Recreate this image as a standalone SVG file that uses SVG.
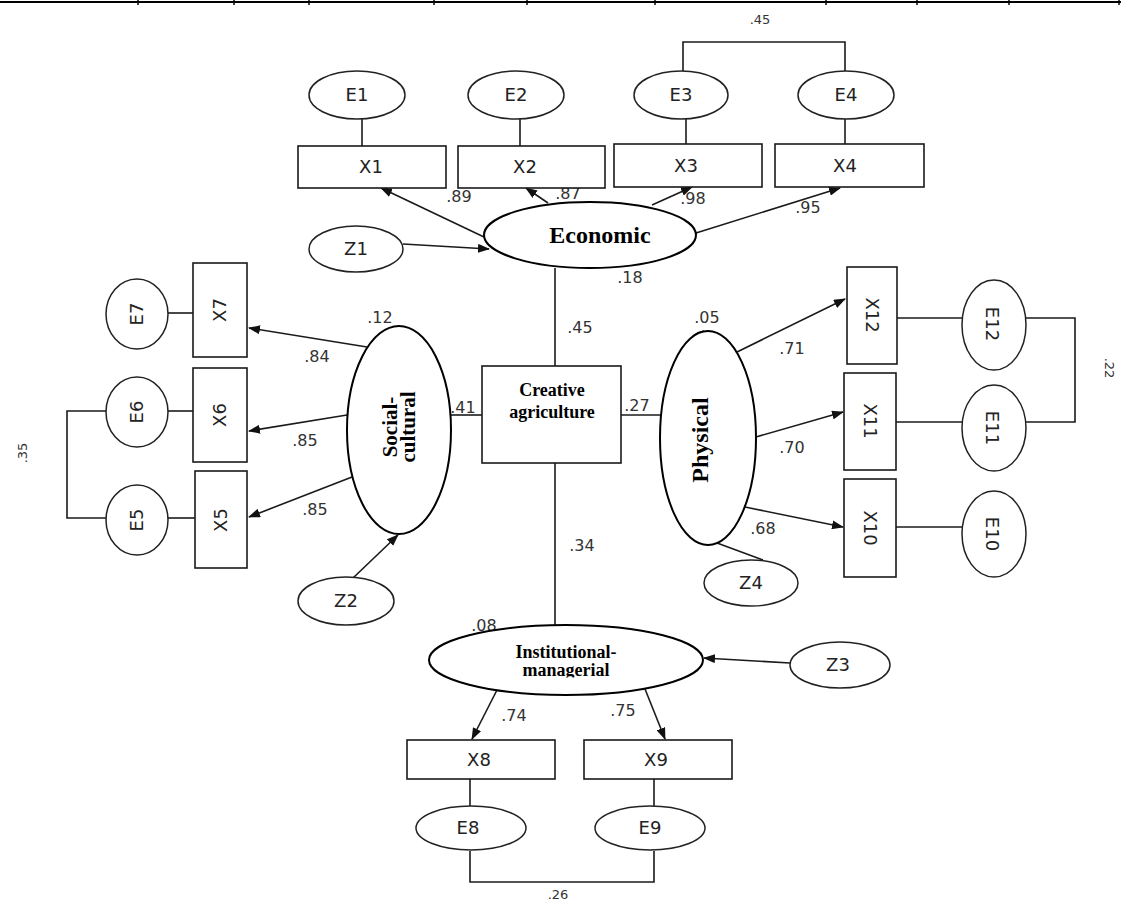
<svg xmlns="http://www.w3.org/2000/svg" width="1121" height="902" viewBox="0 0 1121 902">
<defs>
<marker id="ah" markerUnits="userSpaceOnUse" markerWidth="12" markerHeight="9" refX="11" refY="4.5" orient="auto">
<path d="M0,0 L12,4.5 L0,9 z" fill="#111"/>
</marker>
<clipPath id="clipInst"><rect x="400" y="600" width="340" height="77.5"/></clipPath>
<style>
.ln{stroke:#1a1a1a;stroke-width:1.6;fill:none}
.ar{stroke:#1a1a1a;stroke-width:1.6;fill:none;marker-end:url(#ah)}
.obs{fill:#fff;stroke:#1a1a1a;stroke-width:1.6}
.err{fill:#fff;stroke:#222;stroke-width:1.5}
.lat{fill:#fff;stroke:#000;stroke-width:2}
.lbl{font-family:"DejaVu Sans",sans-serif;font-size:18px;fill:#222;text-anchor:middle}
.num{font-family:"DejaVu Sans",sans-serif;font-size:16px;fill:#333;text-anchor:middle}
.sm{font-family:"DejaVu Sans",sans-serif;font-size:13px;fill:#333;text-anchor:middle}
.bold{font-family:"Liberation Serif","Times New Roman",serif;font-weight:bold;fill:#000;text-anchor:middle}
</style>
</defs>
<rect width="1121" height="902" fill="#fff"/>
<g id="border" stroke="#000">
<line x1="0" y1="2" x2="1121" y2="2" stroke-width="2"/>
<g stroke-width="1.5">
<line x1="138" y1="0" x2="138" y2="5"/><line x1="234" y1="0" x2="234" y2="5"/><line x1="309" y1="0" x2="309" y2="5"/>
<line x1="434" y1="0" x2="434" y2="5"/><line x1="527" y1="0" x2="527" y2="5"/><line x1="655" y1="0" x2="655" y2="5"/>
<line x1="826" y1="0" x2="826" y2="5"/><line x1="917" y1="0" x2="917" y2="5"/><line x1="1009" y1="0" x2="1009" y2="5"/>
<line x1="1119" y1="0" x2="1119" y2="5"/>
</g>
</g>
<g id="connectors">
<line class="ln" x1="362" y1="119" x2="362" y2="146"/>
<line class="ln" x1="520" y1="119" x2="520" y2="146"/>
<line class="ln" x1="686" y1="119" x2="686" y2="144"/>
<line class="ln" x1="845" y1="119" x2="845" y2="144"/>
<polyline class="ln" points="683,72 683,42 845,42 845,72"/>
<line class="ar" x1="484" y1="237" x2="381" y2="188"/>
<line class="ar" x1="548" y1="203" x2="526" y2="188"/>
<line class="ar" x1="652" y1="205" x2="692" y2="187"/>
<line class="ar" x1="696" y1="233" x2="840" y2="188"/>
<line class="ar" x1="403" y1="244" x2="489" y2="249"/>
<line class="ln" x1="555" y1="268" x2="555" y2="366"/>
<line class="ln" x1="451" y1="415" x2="482" y2="415"/>
<line class="ln" x1="621" y1="415" x2="661" y2="415"/>
<line class="ln" x1="555" y1="463" x2="555" y2="625"/>
<line class="ar" x1="367" y1="347" x2="249" y2="328"/>
<line class="ar" x1="347" y1="415" x2="249" y2="431"/>
<line class="ar" x1="352" y1="477" x2="249" y2="517"/>
<line class="ar" x1="353" y1="578" x2="398" y2="535"/>
<line class="ln" x1="168" y1="313" x2="193" y2="313"/>
<line class="ln" x1="168" y1="411" x2="193" y2="411"/>
<line class="ln" x1="168" y1="518" x2="195" y2="518"/>
<polyline class="ln" points="107,411 67,411 67,518 107,518"/>
<line class="ar" x1="737" y1="352" x2="845" y2="299"/>
<line class="ar" x1="756" y1="437" x2="843" y2="412"/>
<line class="ar" x1="745" y1="507" x2="843" y2="527"/>
<line class="ln" x1="717" y1="543" x2="763" y2="560"/>
<path class="ln" d="M688,345 Q691,333 704,331" stroke-width="2.5"/>
<line class="ln" x1="897" y1="318" x2="962" y2="318"/>
<line class="ln" x1="896" y1="422" x2="962" y2="422"/>
<line class="ln" x1="896" y1="527" x2="962" y2="527"/>
<polyline class="ln" points="1026,318 1075,318 1075,422 1026,422"/>
<line class="ar" x1="497" y1="690" x2="472" y2="739"/>
<line class="ar" x1="645" y1="689" x2="665" y2="739"/>
<line class="ar" x1="790" y1="663" x2="704" y2="658"/>
<line class="ln" x1="470" y1="779" x2="470" y2="806"/>
<line class="ln" x1="654" y1="779" x2="654" y2="806"/>
<polyline class="ln" points="470,851 470,882 654,882 654,851"/>
<g id="coefs">
<text class="sm" x="760" y="24">.45</text>
<text class="num" x="459" y="202">.89</text>
<text class="num" x="568" y="199">.87</text>
<text class="num" x="693" y="204">.98</text>
<text class="num" x="808" y="213">.95</text>
<text class="num" x="630" y="283">.18</text>
<text class="num" x="580" y="333">.45</text>
<text class="num" x="380" y="323">.12</text>
<text class="num" x="317" y="362">.84</text>
<text class="num" x="305" y="446">.85</text>
<text class="num" x="315" y="515">.85</text>
<text class="num" x="463" y="413">.41</text>
<text class="num" x="637" y="411">.27</text>
<text class="num" x="707" y="323">.05</text>
<text class="num" x="792" y="354">.71</text>
<text class="num" x="792" y="453">.70</text>
<text class="num" x="763" y="534">.68</text>
<text class="num" x="582" y="551">.34</text>
<text class="num" x="484" y="631">.08</text>
<text class="num" x="514" y="721">.74</text>
<text class="num" x="623" y="716">.75</text>
<text class="sm" x="558" y="899">.26</text>
<text class="sm" transform="translate(22,453) rotate(-90)" y="5">.35</text>
<text class="sm" transform="translate(1110,368) rotate(90)" y="5">.22</text>
</g>
</g>
<g id="E1"><ellipse class="err" cx="357" cy="95" rx="48" ry="24"/><text class="lbl" x="357" y="101">E1</text></g>
<g id="E2"><ellipse class="err" cx="516" cy="95" rx="48" ry="24"/><text class="lbl" x="516" y="101">E2</text></g>
<g id="E3"><ellipse class="err" cx="681" cy="95" rx="47" ry="24"/><text class="lbl" x="681" y="101">E3</text></g>
<g id="E4"><ellipse class="err" cx="846" cy="95" rx="48" ry="24"/><text class="lbl" x="846" y="101">E4</text></g>
<g id="X1"><rect class="obs" x="298" y="146" width="148" height="42"/><text class="lbl" x="371" y="173">X1</text></g>
<g id="X2"><rect class="obs" x="458" y="146" width="147" height="42"/><text class="lbl" x="525" y="173">X2</text></g>
<g id="X3"><rect class="obs" x="614" y="144" width="148" height="43"/><text class="lbl" x="686" y="172">X3</text></g>
<g id="X4"><rect class="obs" x="775" y="144" width="149" height="43"/><text class="lbl" x="845" y="172">X4</text></g>
<g id="Z1"><ellipse class="err" cx="356" cy="249" rx="47" ry="23"/><text class="lbl" x="356" y="255">Z1</text></g>
<g id="Economic"><ellipse class="lat" cx="590" cy="235" rx="106" ry="33"/><text class="bold" x="600" y="243" font-size="24">Economic</text></g>
<g id="Creative"><rect class="obs" x="482" y="366" width="139" height="97" stroke-width="1.8"/><text class="bold" x="552" y="396" font-size="18">Creative</text><text class="bold" x="552" y="418" font-size="18">agriculture</text></g>
<g id="SocialCultural"><ellipse class="lat" cx="399" cy="430" rx="52" ry="104"/>
<g transform="translate(397,427) rotate(-90)"><text class="bold" x="0" y="0" font-size="21">Social-</text><text class="bold" x="0" y="18" font-size="21">cultural</text></g></g>
<g id="X7"><rect class="obs" x="193" y="263" width="54" height="94"/><text class="lbl" transform="translate(220,310) rotate(-90)" y="6">X7</text></g>
<g id="X6"><rect class="obs" x="193" y="368" width="54" height="94"/><text class="lbl" transform="translate(220,415) rotate(-90)" y="6">X6</text></g>
<g id="X5"><rect class="obs" x="195" y="471" width="52" height="97"/><text class="lbl" transform="translate(221,520) rotate(-90)" y="6">X5</text></g>
<g id="E7"><ellipse class="err" cx="137" cy="314" rx="31" ry="35"/><text class="lbl" transform="translate(137,314) rotate(-90)" y="6">E7</text></g>
<g id="E6"><ellipse class="err" cx="137" cy="412" rx="31" ry="35"/><text class="lbl" transform="translate(137,412) rotate(-90)" y="6">E6</text></g>
<g id="E5"><ellipse class="err" cx="137" cy="520" rx="31" ry="35"/><text class="lbl" transform="translate(137,520) rotate(-90)" y="6">E5</text></g>
<g id="Z2"><ellipse class="err" cx="346" cy="601" rx="48" ry="24"/><text class="lbl" x="346" y="607">Z2</text></g>
<g id="Physical"><ellipse class="lat" cx="708" cy="438" rx="48" ry="107"/><text class="bold" transform="translate(708,440) rotate(-90)" x="0" y="0" font-size="24">Physical</text></g>
<g id="X12"><rect class="obs" x="847" y="267" width="50" height="97"/><text class="lbl" transform="translate(872,315) rotate(90)" y="6">X12</text></g>
<g id="X11"><rect class="obs" x="844" y="373" width="52" height="97"/><text class="lbl" transform="translate(870,421) rotate(90)" y="6">X11</text></g>
<g id="X10"><rect class="obs" x="844" y="479" width="52" height="98"/><text class="lbl" transform="translate(870,528) rotate(90)" y="6">X10</text></g>
<g id="E12"><ellipse class="err" cx="994" cy="325" rx="32" ry="45"/><text class="lbl" transform="translate(992,324) rotate(90)" y="6">E12</text></g>
<g id="E11"><ellipse class="err" cx="994" cy="428" rx="32" ry="43"/><text class="lbl" transform="translate(992,428) rotate(90)" y="6">E11</text></g>
<g id="E10"><ellipse class="err" cx="994" cy="534" rx="32" ry="43"/><text class="lbl" transform="translate(992,534) rotate(90)" y="6">E10</text></g>
<g id="Z4"><ellipse class="err" cx="751" cy="583" rx="47" ry="23"/><text class="lbl" x="751" y="589">Z4</text></g>
<g id="Institutional"><ellipse class="lat" cx="566" cy="660" rx="137" ry="35"/>
<g clip-path="url(#clipInst)"><text class="bold" x="566" y="658" font-size="18">Institutional-</text><text class="bold" x="566" y="676" font-size="18">managerial</text></g></g>
<g id="Z3"><ellipse class="err" cx="840" cy="665" rx="50" ry="23"/><text class="lbl" x="838" y="671">Z3</text></g>
<g id="X8"><rect class="obs" x="407" y="740" width="148" height="39"/><text class="lbl" x="479" y="766">X8</text></g>
<g id="X9"><rect class="obs" x="584" y="740" width="148" height="39"/><text class="lbl" x="656" y="766">X9</text></g>
<g id="E8"><ellipse class="err" cx="471" cy="828" rx="55" ry="22"/><text class="lbl" x="468" y="834">E8</text></g>
<g id="E9"><ellipse class="err" cx="650" cy="828" rx="55" ry="22"/><text class="lbl" x="650" y="834">E9</text></g>
</svg>
